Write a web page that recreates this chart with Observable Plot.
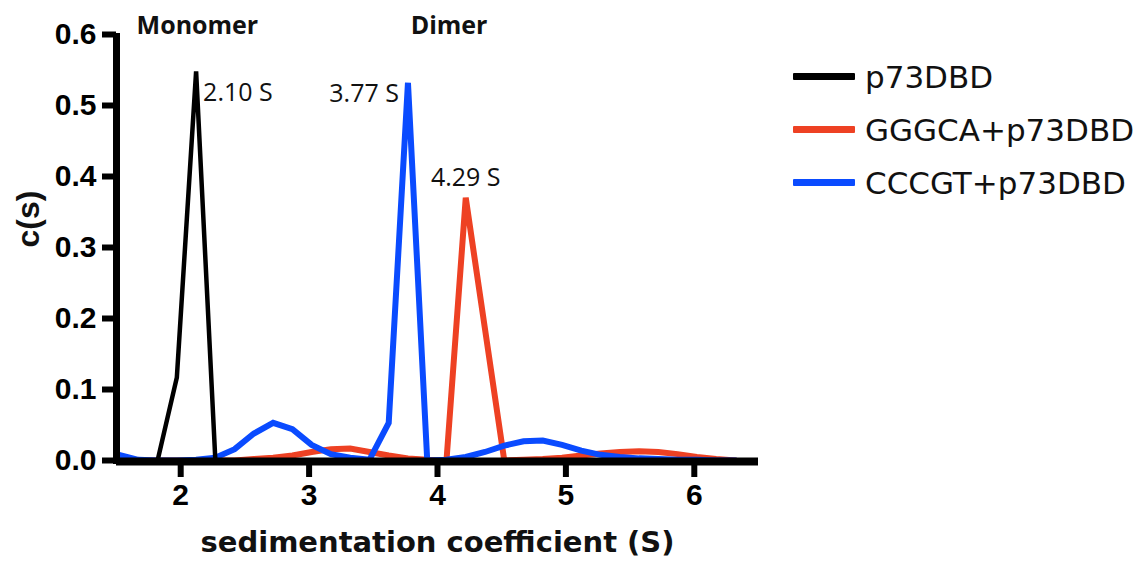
<!DOCTYPE html>
<html><head><meta charset="utf-8">
<script src="https://cdn.jsdelivr.net/npm/d3@7"></script>
<script src="https://cdn.jsdelivr.net/npm/@observablehq/plot@0.6"></script>
<style>
body{margin:0;background:#fff;}
#wrap{position:relative;width:1143px;height:561px;overflow:hidden;}
#chart{position:absolute;left:0;top:0;}
#legend{position:absolute;left:793px;top:50px;font-family:"DejaVu Sans",sans-serif;font-size:31px;color:#111;}
.item{display:flex;align-items:center;height:53px;}
.sw{width:62px;height:7px;margin-right:10px;border-radius:1px;}
</style></head><body>
<div id="wrap"><div id="chart"></div><div id="legend"></div></div>
<script>
// sedimentation coefficient grid (S)
const sValues = [1.52,1.67,1.82,1.97,2.12,2.27,2.42,2.57,2.72,2.87,3.02,3.17,3.32,3.47,3.62,3.77,3.92,4.07,4.22,4.37,4.52,4.67,4.82,4.97,5.12,5.27,5.42,5.57,5.72,5.87,6.02,6.17,6.32];
// c(s) per series (null = not drawn)
const p73DBD = [null,null,0,0.117,0.548,0,null,null,null,null,null,null,null,null,null,null,null,null,null,null,null,null,null,null,null,null,null,null,null,null,null,null,null];
const gggcaP73 = [0,0,0,0,0,0,0,0.002,0.004,0.007,0.012,0.016,0.017,0.012,0.007,0.003,0.001,0,0.370,0.185,0,0.001,0.002,0.004,0.007,0.010,0.012,0.013,0.012,0.009,0.005,0.002,0];
const cccgtP73 = [0.008,0.001,0,0,0.001,0.004,0.016,0.038,0.053,0.044,0.022,0.009,0.004,0.001,0.053,0.532,0,0.001,0.005,0.012,0.021,0.027,0.028,0.022,0.014,0.008,0.005,0.003,0.002,0.001,0.001,0,0];

const seriesNames = ["p73DBD","GGGCA+p73DBD","CCCGT+p73DBD"];
const seriesColors = ["#000000","#EE4123","#0A4BFF"];
const seriesWidths = [4.5,6,6];
const seriesData = [p73DBD, gggcaP73, cccgtP73];
const drawOrder = [1,2,0];

const xTicks = [2,3,4,5,6];
const yTicks = [0,0.1,0.2,0.3,0.4,0.5,0.6];
const xTitle = "sedimentation coefficient (S)";
const yTitle = "c(s)";

// peak annotations
const peakText = ["2.10 S","3.77 S","4.29 S"];
const peakSeries = [0,2,1];
const peakIndex = [4,15,18];
const peakAnchor = ["start","end","middle"];
const peakDx = [7,-9,0];
const peakDy = [22,11,-20];

// species labels
const stateNames = ["Monomer","Dimer"];
const stateS = [2.13,4.09];
const stateC = [0.6,0.6];

const rows = [];
drawOrder.forEach(k => sValues.forEach((s,i) => rows.push({s, c: seriesData[k][i], series: seriesNames[k]})));

const peaks = peakText.map((t,j) => ({text:t, s:sValues[peakIndex[j]], c:seriesData[peakSeries[j]][peakIndex[j]], anchor:peakAnchor[j], dx:peakDx[j], dy:peakDy[j]}));
const states = stateNames.map((n,j)=>({text:n, s:stateS[j], c:stateC[j]}));

const lineMarks = drawOrder.map(k => Plot.line(rows.filter(r=>r.series===seriesNames[k]), {
  x:"s", y:"c", stroke: seriesColors[k], strokeWidth: seriesWidths[k], strokeLinejoin:"miter", strokeMiterlimit:3, curve:"linear"
}));

const chart = Plot.plot({
  width: 770, height: 561,
  marginLeft: 116, marginRight: 12, marginTop: 34, marginBottom: 101,
  x: {domain:[1.5,6.5]},
  y: {domain:[0,0.6]},
  style: {background:"#fff", color:"#000"},
  marks: [
    ...lineMarks,
    Plot.ruleY([0], {strokeWidth: 8, stroke:"#000", dy: 1}),
    Plot.ruleX([1.5], {y1: 0.6, y2: 0, strokeWidth: 7, stroke:"#000", insetBottom:-4, insetTop:-1}),
    Plot.axisY({ticks: yTicks, tickSize: 14, strokeWidth: 6, tickPadding: 6, tickFormat: d3.format(".1f"),
      fontSize: 30, fontWeight: "bold", fontFamily: "Liberation Sans", label: null}),
    Plot.axisX({ticks: xTicks, tickSize: 17, strokeWidth: 6, tickPadding: 6, tickFormat: d3.format("d"),
      fontSize: 30, fontWeight: "bold", fontFamily: "Liberation Sans", label: null}),
    Plot.text([xTitle], {frameAnchor:"bottom", dy: 91, fontSize: 29, fontWeight:"bold", fontFamily:"DejaVu Sans", fill:"#111"}),
    Plot.text([yTitle], {frameAnchor:"left", dx: -88, dy: 0, rotate: -90, fontSize: 32, fontWeight:"bold", fontFamily:"Liberation Sans", fill:"#111"}),
    ...peaks.map(p => Plot.text([p], {x:"s", y:"c", text:"text", textAnchor:p.anchor, dx:p.dx, dy:p.dy, fontSize:25, fontFamily:"Open Sans", fill:"#111"})),
    Plot.text(states, {x:"s", y:"c", text:"text", dy:-9, fontSize:25, fontWeight:"bold", fontFamily:"Open Sans", fill:"#111", clip:false})
  ]
});
document.getElementById("chart").appendChild(chart);

const legend = d3.select("#legend");
seriesNames.forEach((n,k)=>{
  const it = legend.append("div").attr("class","item");
  it.append("div").attr("class","sw").style("background", seriesColors[k]);
  it.append("span").text(n);
});
</script>
</body></html>
